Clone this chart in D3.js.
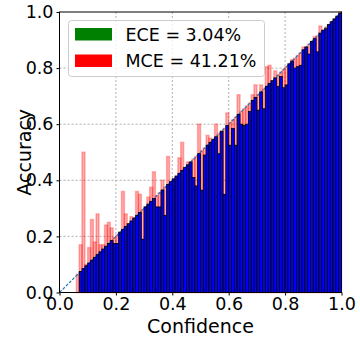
<!DOCTYPE html>
<html>
<head>
<meta charset="utf-8">
<script src="https://cdn.jsdelivr.net/npm/d3@7"></script>
<style>
  html, body { margin: 0; padding: 0; background: #fff; }
  svg { display: block; }
  text { font-family: "DejaVu Sans", sans-serif; }
</style>
</head>
<body>
<svg id="chart" width="360" height="341"></svg>
<script>
// ---- data (reliability diagram, 100 bins; bins below 0.06 are empty) ----
const binCenters = [
  0.065, 0.075, 0.085, 0.095, 0.105, 0.115, 0.125, 0.135, 0.145, 0.155,
  0.165, 0.175, 0.185, 0.195, 0.205, 0.215, 0.225, 0.235, 0.245, 0.255,
  0.265, 0.275, 0.285, 0.295, 0.305, 0.315, 0.325, 0.335, 0.345, 0.355,
  0.365, 0.375, 0.385, 0.395, 0.405, 0.415, 0.425, 0.435, 0.445, 0.455,
  0.465, 0.475, 0.485, 0.495, 0.505, 0.515, 0.525, 0.535, 0.545, 0.555,
  0.565, 0.575, 0.585, 0.595, 0.605, 0.615, 0.625, 0.635, 0.645, 0.655,
  0.665, 0.675, 0.685, 0.695, 0.705, 0.715, 0.725, 0.735, 0.745, 0.755,
  0.765, 0.775, 0.785, 0.795, 0.805, 0.815, 0.825, 0.835, 0.845, 0.855,
  0.865, 0.875, 0.885, 0.895, 0.905, 0.915, 0.925, 0.935, 0.945, 0.955,
  0.965, 0.975, 0.985, 0.995
];
const confidence = [
  0.065, 0.075, 0.085, 0.095, 0.105, 0.115, 0.125, 0.135, 0.145, 0.155,
  0.165, 0.175, 0.185, 0.195, 0.205, 0.215, 0.225, 0.235, 0.245, 0.255,
  0.265, 0.275, 0.285, 0.295, 0.305, 0.315, 0.325, 0.335, 0.345, 0.355,
  0.365, 0.375, 0.385, 0.395, 0.405, 0.415, 0.425, 0.435, 0.445, 0.455,
  0.465, 0.475, 0.485, 0.495, 0.505, 0.515, 0.525, 0.535, 0.545, 0.555,
  0.565, 0.575, 0.585, 0.595, 0.605, 0.615, 0.625, 0.635, 0.645, 0.655,
  0.665, 0.675, 0.685, 0.695, 0.705, 0.715, 0.725, 0.735, 0.745, 0.755,
  0.765, 0.775, 0.785, 0.795, 0.805, 0.815, 0.825, 0.835, 0.845, 0.855,
  0.865, 0.875, 0.885, 0.895, 0.905, 0.915, 0.925, 0.935, 0.945, 0.955,
  0.965, 0.975, 0.985, 0.995
];
const accuracy = [
  0.00, 0.17, 0.50, 0.10, 0.16, 0.26, 0.18, 0.28, 0.17, 0.17,
  0.24, 0.25, 0.23, 0.175, 0.175, 0.215, 0.36, 0.28, 0.245, 0.27,
  0.265, 0.36, 0.35, 0.19, 0.305, 0.34, 0.375, 0.43, 0.305, 0.305,
  0.40, 0.275, 0.485, 0.395, 0.405, 0.415, 0.48, 0.535, 0.445, 0.465,
  0.465, 0.41, 0.38, 0.60, 0.365, 0.49, 0.56, 0.55, 0.545, 0.60,
  0.495, 0.575, 0.35, 0.64, 0.525, 0.585, 0.525, 0.705, 0.60, 0.595,
  0.60, 0.645, 0.705, 0.74, 0.65, 0.74, 0.655, 0.805, 0.81, 0.755,
  0.79, 0.735, 0.77, 0.73, 0.74, 0.815, 0.83, 0.80, 0.805, 0.81,
  0.875, 0.875, 0.85, 0.895, 0.912, 0.858, 0.95, 0.935, 0.94, 0.955,
  0.965, 0.975, 0.985, 1.0
];
const binWidth = 0.01;
const tickValues = [0.0, 0.2, 0.4, 0.6, 0.8, 1.0];
const diagonal = [[0, 0], [1, 1]];
const legendLabels = ["ECE = 3.04%", "MCE = 41.21%"];
const legendColors = ["#008000", "#ff0000"];
const xTitle = "Confidence";
const yTitle = "Accuracy";

// ---- layout ----
const L = 59.5, R = 341.5, T = 12, B = 292.5;
const svg = d3.select("#chart");
const x = d3.scaleLinear().domain([0, 1]).range([L, R]);
const y = d3.scaleLinear().domain([0, 1]).range([B, T]);

const bins = binCenters.map((c, i) => ({
  c, acc: accuracy[i], conf: confidence[i],
  lo: Math.min(accuracy[i], confidence[i]),
  hi: Math.max(accuracy[i], confidence[i])
}));

// grid
const grid = svg.append("g");
tickValues.filter(v => v > 0 && v < 1).forEach(v => {
  grid.append("line").attr("x1", x(v)).attr("x2", x(v)).attr("y1", T).attr("y2", B)
    .attr("stroke", "#b0b0b0").attr("stroke-width", 1).attr("stroke-dasharray", "2,2");
  grid.append("line").attr("x1", L).attr("x2", R).attr("y1", y(v)).attr("y2", y(v))
    .attr("stroke", "#b0b0b0").attr("stroke-width", 1).attr("stroke-dasharray", "2,2");
});

// gap (red) bars: 0 -> max(acc, conf)
svg.append("g").selectAll("rect").data(bins).join("rect")
  .attr("x", d => x(d.c - binWidth / 2))
  .attr("width", d => x(d.c + binWidth / 2) - x(d.c - binWidth / 2))
  .attr("y", d => y(d.hi))
  .attr("height", d => y(0) - y(d.hi))
  .attr("fill", "rgba(255,0,0,0.3)")
  .attr("stroke", "rgba(255,0,0,0.3)")
  .attr("stroke-width", 1.5);

// diagonal
svg.append("path")
  .attr("d", d3.line().x(d => x(d[0])).y(d => y(d[1]))(diagonal))
  .attr("stroke", "#1f77b4").attr("stroke-width", 1.2)
  .attr("stroke-dasharray", "3,1.5").attr("fill", "none");

// output (blue) bars: 0 -> min(acc, conf)
svg.append("g").selectAll("rect").data(bins).join("rect")
  .attr("x", d => x(d.c - binWidth / 2))
  .attr("width", d => x(d.c + binWidth / 2) - x(d.c - binWidth / 2))
  .attr("y", d => y(d.lo))
  .attr("height", d => y(0) - y(d.lo))
  .attr("fill", "#0000ff")
  .attr("stroke", "#000")
  .attr("stroke-width", 0.8);

// axes
const fmt = d3.format(".1f");
const xAxis = svg.append("g").attr("transform", `translate(0,${B})`)
  .call(d3.axisBottom(x).tickValues(tickValues).tickFormat(fmt).tickSize(3).tickPadding(2).tickSizeOuter(0));
const yAxis = svg.append("g").attr("transform", `translate(${L},0)`)
  .call(d3.axisLeft(y).tickValues(tickValues).tickFormat(fmt).tickSize(3).tickPadding(3).tickSizeOuter(0));
[xAxis, yAxis].forEach(a => {
  a.select(".domain").remove();
  a.selectAll("text").attr("font-size", "17.5px").attr("fill", "#000")
    .attr("font-family", "DejaVu Sans, sans-serif");
  a.selectAll("line").attr("stroke", "#000");
});

// frame
svg.append("rect").attr("x", L).attr("y", T).attr("width", R - L).attr("height", B - T)
  .attr("fill", "none").attr("stroke", "#000").attr("stroke-width", 1);

// axis titles
svg.append("text").attr("x", (L + R) / 2).attr("y", 333).attr("text-anchor", "middle")
  .attr("font-size", "19px").text(xTitle);
svg.append("text").attr("transform", `translate(31,${(T + B) / 2}) rotate(-90)`)
  .attr("text-anchor", "middle").attr("font-size", "19px").text(yTitle);

// legend
const lg = svg.append("g");
lg.append("rect").attr("x", 68.5).attr("y", 20.5).attr("width", 196).attr("height", 56).attr("rx", 3)
  .attr("fill", "rgba(255,255,255,0.8)").attr("stroke", "#cccccc").attr("stroke-width", 1);
legendLabels.forEach((t, i) => {
  lg.append("rect").attr("x", 75).attr("y", 28 + i * 26.5).attr("width", 37).attr("height", 12.5)
    .attr("fill", legendColors[i]);
  lg.append("text").attr("x", 125.5).attr("y", 40.5 + i * 26.5).attr("font-size", "17.5px").text(t);
});
</script>
</body>
</html>
